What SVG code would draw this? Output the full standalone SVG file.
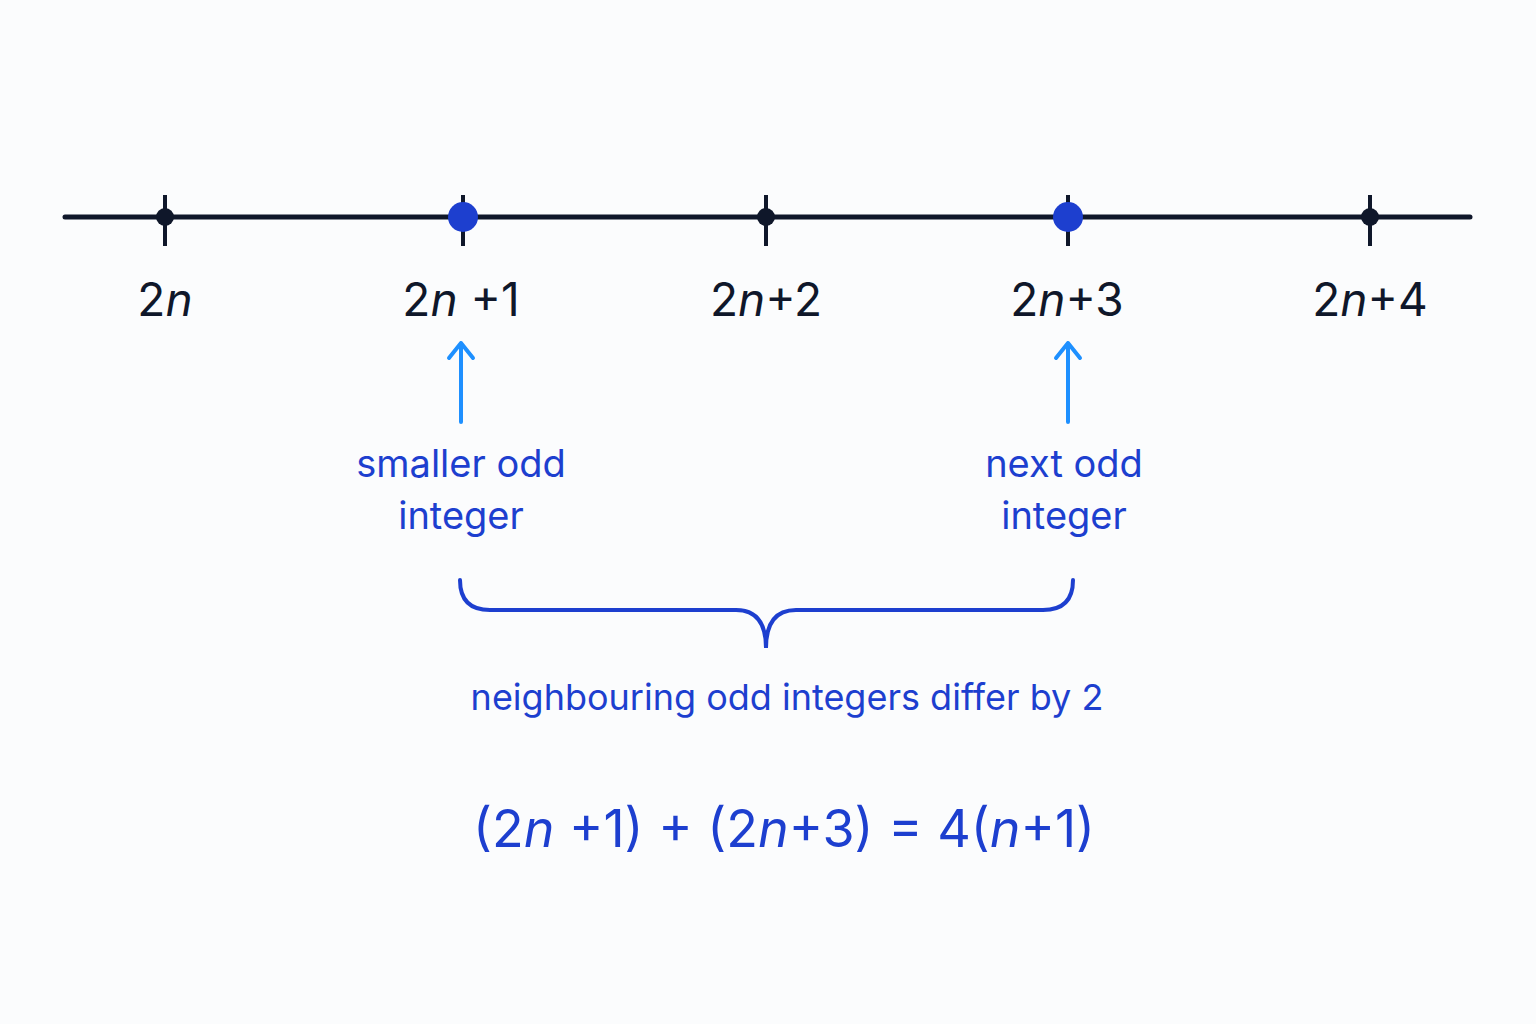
<svg xmlns="http://www.w3.org/2000/svg" width="1536" height="1024" viewBox="0 0 1536 1024">
<defs>
<style>
.dk{fill:#0f172a;font-family:Inter,"Noto Sans",sans-serif;font-size:46px;text-anchor:middle}
.bl{fill:#1d3fcf;font-family:Inter,"Noto Sans",sans-serif;text-anchor:middle}
.tick{stroke:#0f172a;stroke-width:4}
.arr{stroke:#1e90ff;stroke-width:4;fill:none;stroke-linecap:round;stroke-linejoin:round}
</style>
</defs>
<rect width="1536" height="1024" fill="#fbfcfd"/>
<g id="axis">
<line x1="65" y1="217" x2="1470" y2="217" stroke="#0f172a" stroke-width="5" stroke-linecap="round"/>
<line class="tick" x1="165" y1="195" x2="165" y2="246"/>
<line class="tick" x1="463" y1="195" x2="463" y2="246"/>
<line class="tick" x1="766" y1="195" x2="766" y2="246"/>
<line class="tick" x1="1068" y1="195" x2="1068" y2="246"/>
<line class="tick" x1="1370" y1="195" x2="1370" y2="246"/>
<circle cx="165" cy="217" r="9" fill="#0f172a"/>
<circle cx="766" cy="217" r="9" fill="#0f172a"/>
<circle cx="1370" cy="217" r="9" fill="#0f172a"/>
<circle cx="463" cy="217" r="15" fill="#1d3fcf"/>
<circle cx="1068" cy="217" r="15" fill="#1d3fcf"/>
</g>
<g id="labels">
<text class="dk" x="165" y="316">2<tspan font-style="italic">n</tspan></text>
<text class="dk" x="461" y="316">2<tspan font-style="italic">n</tspan> +1</text>
<text class="dk" x="766" y="316">2<tspan font-style="italic">n</tspan>+2</text>
<text class="dk" x="1067" y="316">2<tspan font-style="italic">n</tspan>+3</text>
<text class="dk" x="1370" y="316">2<tspan font-style="italic">n</tspan>+4</text>
</g>
<g id="connectors">
<path class="arr" d="M461 422 V343 M449 358 L461 343 L473 358"/>
<path class="arr" d="M1068 422 V343 M1056 358 L1068 343 L1080 358"/>
<path d="M460 580 Q460 610 490 610 H736 Q766 610 766 648 Q766 610 796 610 H1043 Q1073 610 1073 580" fill="none" stroke="#1d3fcf" stroke-width="4" stroke-linecap="round"/>
</g>
<g id="notes">
<text class="bl" x="461" y="477" font-size="38">smaller odd</text>
<text class="bl" x="461" y="529" font-size="38">integer</text>
<text class="bl" x="1064" y="477" font-size="38">next odd</text>
<text class="bl" x="1064" y="529" font-size="38">integer</text>
<text class="bl" x="787" y="710" font-size="36">neighbouring odd integers differ by 2</text>
<text class="bl" x="784" y="847" font-size="52">(2<tspan font-style="italic">n</tspan> +1) + (2<tspan font-style="italic">n</tspan>+3) = 4(<tspan font-style="italic">n</tspan>+1)</text>
</g>
</svg>
